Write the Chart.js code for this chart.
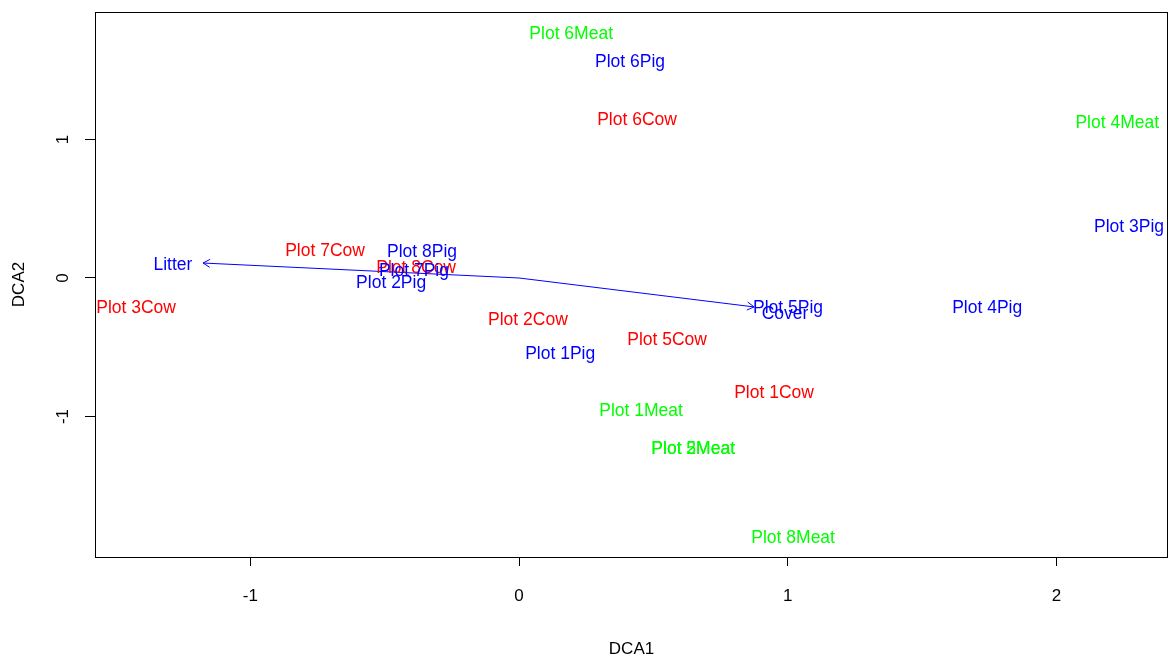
<!DOCTYPE html>
<html>
<head>
<meta charset="utf-8">
<script src="https://cdn.jsdelivr.net/npm/chart.js@4/dist/chart.umd.min.js"></script>
<style>
html, body { margin: 0; padding: 0; background: #fff; }
</style>
</head>
<body>
<canvas id="dca" width="1169" height="662"></canvas>
<script>
// site scores (DCA1, DCA2)
const cowNames = ["Plot 1Cow", "Plot 2Cow", "Plot 3Cow", "Plot 5Cow", "Plot 6Cow", "Plot 7Cow", "Plot 8Cow"];
const cowX = [0.949, 0.033, -1.425, 0.551, 0.439, -0.722, -0.383];
const cowY = [-0.830, -0.303, -0.217, -0.448, 1.141, 0.195, 0.072];

const pigNames = ["Plot 1Pig", "Plot 2Pig", "Plot 3Pig", "Plot 4Pig", "Plot 5Pig", "Plot 6Pig", "Plot 7Pig", "Plot 8Pig"];
const pigX = [0.153, -0.476, 2.270, 1.742, 1.001, 0.413, -0.391, -0.361];
const pigY = [-0.549, -0.036, 0.368, -0.217, -0.217, 1.560, 0.051, 0.188];

const meatNames = ["Plot 1Meat", "Plot 2Meat", "Plot 4Meat", "Plot 5Meat", "Plot 6Meat", "Plot 8Meat"];
const meatX = [0.454, 0.648, 2.226, 0.648, 0.194, 1.020];
const meatY = [-0.960, -1.235, 1.119, -1.235, 1.762, -1.877];

// envfit vectors (arrow tips) and where their labels sit
const vectorNames = ["Litter", "Cover"];
const vectorX = [-1.176, 0.875];
const vectorY = [0.108, -0.209];
const vectorLabelX = [-1.288, 0.990];
const vectorLabelY = [0.094, -0.260];

const xTicks = [-1, 0, 1, 2];
const yTicks = [-1, 0, 1];

const FONT = "'Liberation Sans', Arial, sans-serif";

function pts(xs, ys) {
    return xs.map((x, i) => ({ x: x, y: ys[i] }));
}

const datasets = [
    { label: "Cow", data: pts(cowX, cowY), names: cowNames, textColor: "#ff0000" },
    { label: "Pig", data: pts(pigX, pigY), names: pigNames, textColor: "#0000ff" },
    { label: "Meat", data: pts(meatX, meatY), names: meatNames, textColor: "#00ff00" },
    { label: "Vectors", data: pts(vectorLabelX, vectorLabelY), names: vectorNames, textColor: "#0000ff" }
];
datasets.forEach(d => { d.pointRadius = 0; d.pointHoverRadius = 0; });

// one line per vector, from the origin to the tip
vectorNames.forEach((n, i) => {
    datasets.push({
        label: n + " arrow",
        data: [{ x: 0, y: 0 }, { x: vectorX[i], y: vectorY[i] }],
        showLine: true,
        borderColor: "#0000ff",
        borderWidth: 1,
        pointRadius: 0,
        isArrow: true
    });
});

const textLabels = {
    id: "textLabels",
    afterDatasetsDraw(chart) {
        const ctx = chart.ctx;
        ctx.save();
        chart.data.datasets.forEach((ds, di) => {
            const meta = chart.getDatasetMeta(di);
            if (ds.isArrow) {
                // open arrow head at the tip
                const a = meta.data[0], b = meta.data[1];
                const ang = Math.atan2(b.y - a.y, b.x - a.x);
                const len = 8, spread = Math.PI / 6;
                ctx.strokeStyle = ds.borderColor;
                ctx.lineWidth = 1;
                ctx.beginPath();
                ctx.moveTo(b.x - len * Math.cos(ang - spread), b.y - len * Math.sin(ang - spread));
                ctx.lineTo(b.x, b.y);
                ctx.lineTo(b.x - len * Math.cos(ang + spread), b.y - len * Math.sin(ang + spread));
                ctx.stroke();
                return;
            }
            ctx.fillStyle = ds.textColor;
            ctx.font = "17.5px " + FONT;
            ctx.textAlign = "center";
            ctx.textBaseline = "middle";
            meta.data.forEach((el, i) => {
                ctx.fillText(ds.names[i], el.x, el.y);
            });
        });
        ctx.restore();
    }
};

const frameBox = {
    id: "frameBox",
    afterDraw(chart) {
        const a = chart.chartArea;
        const ctx = chart.ctx;
        ctx.save();
        ctx.strokeStyle = "#000";
        ctx.lineWidth = 1;
        ctx.strokeRect(Math.round(a.left) + 0.5, Math.round(a.top) + 0.5,
            Math.round(a.right - a.left) - 1, Math.round(a.bottom - a.top));
        ctx.restore();
    }
};

new Chart(document.getElementById("dca"), {
    type: "scatter",
    data: { datasets: datasets },
    options: {
        responsive: false,
        animation: false,
        events: [],
        layout: { padding: { left: 0, right: 1, top: 12, bottom: 0 } },
        plugins: { legend: { display: false }, tooltip: { enabled: false } },
        scales: {
            x: {
                type: "linear",
                min: -1.578,
                max: 2.415,
                afterBuildTicks: s => { s.ticks = xTicks.map(v => ({ value: v })); },
                afterFit: s => { s.height = 105; s.paddingLeft = 0; s.paddingRight = 0; },
                grid: { drawOnChartArea: false, drawTicks: true, tickLength: 9, color: "#000" },
                border: { display: false },
                ticks: { color: "#000", font: { family: FONT, size: 17 }, padding: 20, maxRotation: 0 },
                title: { display: true, text: "DCA1", color: "#000", font: { family: FONT, size: 17 }, padding: { top: 0, bottom: 2 } }
            },
            y: {
                type: "linear",
                min: -2.014,
                max: 1.92,
                afterBuildTicks: s => { s.ticks = yTicks.map(v => ({ value: v })); },
                afterFit: s => { s.width = 95; s.paddingTop = 0; s.paddingBottom = 0; },
                grid: { drawOnChartArea: false, drawTicks: true, tickLength: 10, color: "#000" },
                border: { display: false },
                ticks: { color: "#000", font: { family: FONT, size: 17 }, padding: 14, minRotation: 90, maxRotation: 90, crossAlign: "center" },
                title: { display: true, text: "DCA2", color: "#000", font: { family: FONT, size: 17 }, padding: { top: 9, bottom: 0 } }
            }
        }
    },
    plugins: [textLabels, frameBox]
});
</script>
</body>
</html>
